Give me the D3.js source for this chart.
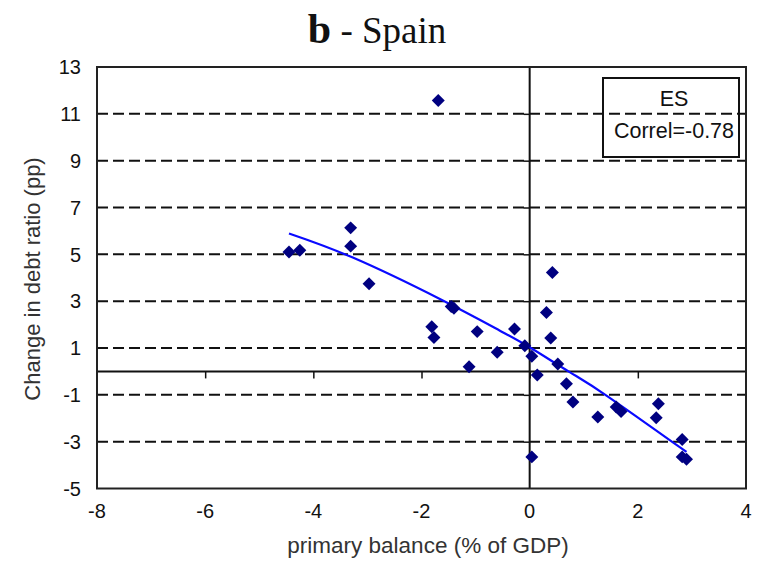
<!DOCTYPE html>
<html>
<head>
<meta charset="utf-8">
<script src="https://cdn.jsdelivr.net/npm/d3@7"></script>
<style>
  html, body { margin: 0; padding: 0; background: #fff; }
  svg { display: block; }
</style>
</head>
<body>
<div id="chart"></div>
<script>
// Spain: primary balance vs change in debt ratio.

const primary_balance = [
  -4.45, -4.25, -3.31, -3.31, -2.97, -1.81, -1.77, -1.45, -1.40, -1.69,
  -1.12, -0.97, -0.60, -0.28, -0.09, 0.04, 0.14, 0.04, 0.31, 0.42,
  0.39, 0.52, 0.68, 0.80, 1.26, 1.60, 1.69, 2.38, 2.34, 2.82,
  2.82, 2.90,
];
const debt_change = [
  5.10, 5.17, 6.13, 5.35, 3.74, 1.91, 1.45, 2.77, 2.70, 11.57,
  0.20, 1.70, 0.82, 1.81, 1.10, 0.65, -0.15, -3.65, 2.52, 4.22,
  1.43, 0.32, -0.53, -1.31, -1.95, -1.52, -1.71, -1.38, -1.98, -2.91,
  -3.65, -3.75,
];

// trend curve as traced on the picture
const trend_x = [-4.45, -3.27, -1.66, -0.55, 0, 0.74, 1.42, 2.90];
const trend_y = [5.89, 4.86, 3.09, 1.74, 1.03, -0.03, -1.03, -3.44];

const x_ticks = [-8, -6, -4, -2, 0, 2, 4];
const y_ticks = [13, 11, 9, 7, 5, 3, 1, -1, -3, -5];
const grid_values = [11, 9, 7, 5, 3, 1, -1, -3];

const legend_lines = ["ES", "Correl=-0.78"];

const width = 760;
const height = 563;
const plot = { left: 97, right: 746, top: 67, bottom: 488.5 };

const x = d3.scaleLinear().domain([-8, 4]).range([plot.left, plot.right]);
const y = d3.scaleLinear().domain([-5, 13]).range([plot.bottom, plot.top]);

const svg = d3.select("#chart").append("svg")
  .attr("width", width)
  .attr("height", height)
  .attr("viewBox", `0 0 ${width} ${height}`);

svg.append("rect")
  .attr("width", width).attr("height", height)
  .attr("fill", "#fff");

// title
const title = svg.append("text")
  .attr("x", 377)
  .attr("y", 43)
  .attr("text-anchor", "middle")
  .attr("font-family", "'Liberation Serif', 'Times New Roman', serif")
  .attr("fill", "#111");
title.append("tspan")
  .attr("font-size", 42)
  .attr("font-weight", "bold")
  .text("b");
title.append("tspan")
  .attr("font-size", 37)
  .text(" - Spain");

// dashed gridlines
svg.append("g")
  .selectAll("line")
  .data(grid_values)
  .join("line")
  .attr("x1", plot.left)
  .attr("x2", plot.right)
  .attr("y1", (d) => y(d))
  .attr("y2", (d) => y(d))
  .attr("stroke", "#111")
  .attr("stroke-width", 2)
  .attr("stroke-dasharray", "11 5");

// zero axes with their small ticks
const x_axis = d3.axisBottom(x)
  .tickValues(x_ticks.slice(1, -1))
  .tickSize(7)
  .tickFormat("");
svg.append("g")
  .attr("transform", `translate(0,${y(0)})`)
  .call(x_axis)
  .call((g) => g.select(".domain").remove())
  .call((g) => g.selectAll(".tick line").attr("stroke", "#111").attr("stroke-width", 1.5));

const y_axis = d3.axisLeft(y)
  .tickValues(grid_values)
  .tickSize(6)
  .tickFormat("");
svg.append("g")
  .attr("transform", `translate(${x(0)},0)`)
  .call(y_axis)
  .call((g) => g.select(".domain").remove())
  .call((g) => g.selectAll(".tick line").attr("stroke", "#111").attr("stroke-width", 1.5));

svg.append("line")
  .attr("x1", plot.left).attr("x2", plot.right)
  .attr("y1", y(0)).attr("y2", y(0))
  .attr("stroke", "#111")
  .attr("stroke-width", 2);
svg.append("line")
  .attr("x1", x(0)).attr("x2", x(0))
  .attr("y1", plot.top).attr("y2", plot.bottom)
  .attr("stroke", "#111")
  .attr("stroke-width", 2);

// plot frame
svg.append("rect")
  .attr("x", plot.left)
  .attr("y", plot.top)
  .attr("width", plot.right - plot.left)
  .attr("height", plot.bottom - plot.top)
  .attr("fill", "none")
  .attr("stroke", "#222")
  .attr("stroke-width", 2);

// tick labels
const label_font = "'Liberation Sans', Arial, sans-serif";
svg.append("g")
  .selectAll("text")
  .data(y_ticks)
  .join("text")
  .attr("x", 81)
  .attr("y", (d) => y(d))
  .attr("dy", "0.36em")
  .attr("text-anchor", "end")
  .attr("font-family", label_font)
  .attr("font-size", 20)
  .attr("fill", "#111")
  .text((d) => d);

svg.append("g")
  .selectAll("text")
  .data(x_ticks)
  .join("text")
  .attr("x", (d) => x(d))
  .attr("y", 518)
  .attr("text-anchor", "middle")
  .attr("font-family", label_font)
  .attr("font-size", 20)
  .attr("fill", "#111")
  .text((d) => d);

// axis titles
svg.append("text")
  .attr("x", 428)
  .attr("y", 553)
  .attr("text-anchor", "middle")
  .attr("font-family", label_font)
  .attr("font-size", 22.5)
  .attr("fill", "#333")
  .text("primary balance (% of GDP)");

svg.append("text")
  .attr("transform", "rotate(-90)")
  .attr("x", -279)
  .attr("y", 40)
  .attr("text-anchor", "middle")
  .attr("font-family", label_font)
  .attr("font-size", 22)
  .attr("fill", "#333")
  .text("Change in debt ratio (pp)");

// trend curve
const trend = d3.line()
  .x((d) => x(d[0]))
  .y((d) => y(d[1]))
  .curve(d3.curveNatural);
svg.append("path")
  .attr("d", trend(trend_x.map((value, index) => [value, trend_y[index]])))
  .attr("fill", "none")
  .attr("stroke", "#0a0aff")
  .attr("stroke-width", 2.2);

// diamond markers
const diamond = d3.symbol().type(d3.symbolSquare).size(84);
svg.append("g")
  .selectAll("path")
  .data(primary_balance.map((value, index) => [value, debt_change[index]]))
  .join("path")
  .attr("d", diamond)
  .attr("transform", (d) => `translate(${x(d[0])},${y(d[1])}) rotate(45)`)
  .attr("fill", "#000080");

// legend box
svg.append("rect")
  .attr("x", 603)
  .attr("y", 78)
  .attr("width", 136)
  .attr("height", 79)
  .attr("fill", "none")
  .attr("stroke", "#111")
  .attr("stroke-width", 2);
svg.append("g")
  .selectAll("text")
  .data(legend_lines)
  .join("text")
  .attr("x", 674)
  .attr("y", (d, i) => 106 + i * 32)
  .attr("text-anchor", "middle")
  .attr("font-family", label_font)
  .attr("font-size", 21.5)
  .attr("fill", "#111")
  .text((d) => d);
</script>
</body>
</html>
